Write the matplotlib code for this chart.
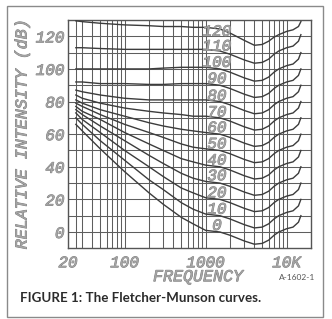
import matplotlib
matplotlib.use("Agg")
import matplotlib.pyplot as plt
import matplotlib.patheffects as pe
from matplotlib.ticker import FixedLocator, NullFormatter
from matplotlib.patches import Rectangle

# ---------------- data ----------------
freq = [25, 30, 50, 100, 200, 300, 500, 700, 1000, 1500, 2000, 3000, 4000,
        5000, 6000, 7000, 8000, 10000, 12000, 14000, 15000]

phon_0 = [66, 62, 51, 37, 24, 17, 9, 5, 1, 0, -2, -5.5, -7.5, -7, -5, -2, 0, 2, 3, 6, 10]
phon_10 = [70, 66, 56, 44, 32, 26, 18, 14, 11, 10, 8, 4.5, 2.5, 3, 5, 8, 10, 12, 13, 16, 20]
phon_20 = [73, 69, 61, 50, 40, 34, 27, 24, 21, 20, 18, 14.5, 12.5, 13, 15, 18, 20, 22, 23, 26, 30]
phon_30 = [75, 72, 65, 56, 47, 42, 36, 33, 31, 30, 28, 24.5, 22.5, 23, 25, 28, 30, 32, 33, 36, 40]
phon_40 = [77, 74, 69, 61, 54, 50, 45, 43, 41, 40, 38, 34.5, 32.5, 33, 35, 38, 40, 42, 43, 46, 50]
phon_50 = [79, 77, 72, 66, 61, 58, 54, 52, 51, 50, 48, 44.5, 42.5, 43, 45, 48, 50, 52, 53, 56, 60]
phon_60 = [81, 79, 75, 71, 67, 65, 63, 62, 61, 60, 58, 54.5, 52.5, 53, 55, 58, 60, 62, 63, 66, 70]
phon_70 = [84, 82, 79, 76, 74, 73, 72, 71, 71, 70, 68, 64.5, 62.5, 63, 65, 68, 70, 72, 73, 76, 80]
phon_80 = [87, 86, 84, 82, 81, 81, 81, 81, 81, 80, 78, 74.5, 72.5, 73, 75, 78, 80, 82, 83, 86, 90]
phon_90 = [92, 92, 91, 91, 90.5, 90.5, 91, 91, 91, 90, 88, 84.5, 82.5, 83, 85, 88, 90, 92, 93, 96, 100]
phon_100 = [100, 100, 100, 100, 100, 100.5, 101, 101, 101, 100, 98, 94.5, 92.5, 93, 95, 98, 100, 102, 103, 106, 110]
phon_110 = [113, 113, 112.5, 112, 112, 112, 112, 112, 112, 111, 109, 105.5, 103.5, 104, 106, 109, 111, 113, 114, 117, 121]
phon_120 = [129.5, 129, 128, 127, 126.5, 126, 126, 125.5, 125.5, 124.5, 122, 117.5, 114.5, 115, 117, 119.5, 121, 123, 124, 126, 129]

curves = [phon_0, phon_10, phon_20, phon_30, phon_40, phon_50, phon_60,
          phon_70, phon_80, phon_90, phon_100, phon_110, phon_120]
curve_labels = ["0", "10", "20", "30", "40", "50", "60", "70", "80", "90", "100", "110", "120"]
label_levels = [4, 14, 24, 34.5, 44, 54, 64, 73.5, 83.5, 94, 104, 114, 123]
label_freq = 1380

xtick_vals = [20, 100, 1000, 10000]
xtick_text = ["20", "100", "1000", "10K"]
ytick_vals = [0, 20, 40, 60, 80, 100, 120]
ytick_text = ["0", "20", "40", "60", "80", "100", "120"]

x_minor = [25, 30, 40, 50, 60, 70, 80, 90, 200, 300, 400, 500, 600, 700, 800, 900,
           2000, 3000, 4000, 5000, 6000, 7000, 8000, 9000]
y_minor = [10, 30, 50, 70, 90, 110]

# ---------------- figure ----------------
W, H = 332, 319
fig = plt.figure(figsize=(W / 100, H / 100), dpi=100)
fig.patch.set_facecolor("white")

ax = fig.add_axes([68 / W, (H - 248.3) / H, (311 - 68) / W, (248.3 - 20) / H])
ax.set_xscale("log")
ax.set_xlim(20, 20000)
ax.set_ylim(-10, 130)

grid_col = "#5e5e5e"
for s in ax.spines.values():
    s.set_color("#555555")
    s.set_linewidth(1.0)

ax.xaxis.set_major_locator(FixedLocator(xtick_vals))
ax.xaxis.set_minor_locator(FixedLocator(x_minor))
ax.xaxis.set_minor_formatter(NullFormatter())
ax.set_xticklabels(xtick_text)
ax.yaxis.set_major_locator(FixedLocator(ytick_vals))
ax.yaxis.set_minor_locator(FixedLocator(y_minor))
ax.set_yticklabels(ytick_text)
ax.grid(which="both", color=grid_col, linewidth=0.75)
ax.set_axisbelow(True)
ax.tick_params(which="both", length=0)
ax.tick_params(axis="x", pad=5.0)
ax.tick_params(axis="y", pad=2.5)

outline = [pe.withStroke(linewidth=0.6, foreground="#7a7a7a")]
fill_col = "#a4a4a4"
mono = "Liberation Mono"
for lab in ax.get_xticklabels() + ax.get_yticklabels():
    lab.set_fontfamily(mono)
    lab.set_fontstyle("italic")
    lab.set_fontsize(11.5)
    lab.set_color(fill_col)
    lab.set_path_effects(outline)

for vals in curves:
    ax.plot(freq, vals, color="#3c3c3c", linewidth=1.0, zorder=3)

for txt, lv in zip(curve_labels, label_levels):
    ax.text(label_freq, lv, txt, ha="center", va="center", zorder=4,
            family=mono, style="italic", size=11.5, color=fill_col,
            path_effects=outline)

fig.text(198 / W, 1 - 276.7 / H, "FREQUENCY", ha="center", va="center",
         family=mono, style="italic", size=12, color=fill_col, path_effects=outline)
fig.text(22 / W, 1 - 134.3 / H, "RELATIVE INTENSITY (dB)", ha="center", va="center",
         rotation=90, family=mono, style="italic", size=12, color=fill_col,
         path_effects=outline)
fig.text(297 / W, 1 - 277.3 / H, "A-1602-1", ha="center", va="center",
         family="Lato", size=6, color="#555555")
fig.text(19.5 / W, 1 - 298.3 / H, "FIGURE 1: The Fletcher-Munson curves.", ha="left",
         va="center", family="Lato", weight="bold", size=9.6, color="#2b2b2b")

fig.patches.append(Rectangle((6.5 / W, 1 - 316.7 / H), (322.7 - 6.5) / W, (316.7 - 6) / H,
                             transform=fig.transFigure, fill=False,
                             edgecolor="#8a8a8a", linewidth=1.0))

fig.savefig("out.png", dpi=100, facecolor="white")
